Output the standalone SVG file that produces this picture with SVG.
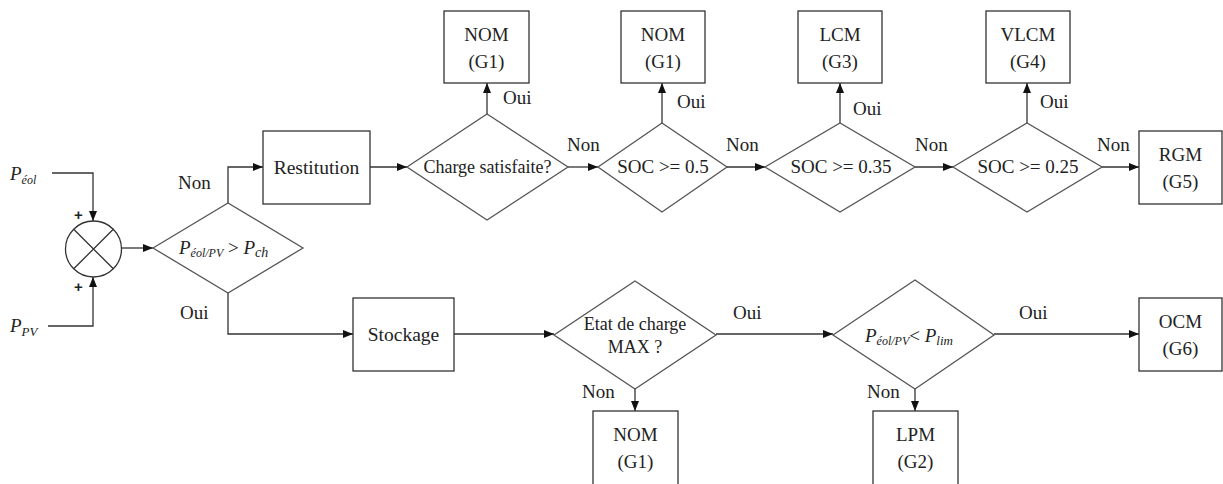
<svg xmlns="http://www.w3.org/2000/svg" width="1223" height="484" viewBox="0 0 1223 484" font-family="'Liberation Serif', 'Times New Roman', 'DejaVu Serif', serif">
<defs>
<marker id="ah" viewBox="0 0 10 8" refX="10" refY="4" markerWidth="10" markerHeight="8" markerUnits="userSpaceOnUse" orient="auto">
<path d="M0,0 L10,4 L0,8 Z" fill="#111"/>
</marker>
<style>
.box{fill:#fff;stroke:#333;stroke-width:1.3}
.dia{fill:#fff;stroke:#555;stroke-width:1.3}
.c{fill:none;stroke:#333;stroke-width:1.3;marker-end:url(#ah)}
.l{fill:none;stroke:#333;stroke-width:1.3}
text{fill:#222;font-size:19px}
.m{text-anchor:middle}
.big{font-size:19.5px}
.sm{font-size:18px}
.it{font-style:italic}
.pl{font-family:'Liberation Sans',Arial,sans-serif;font-weight:bold;font-size:15px}
</style>
</defs>
<rect width="1223" height="484" fill="#fff"/>

<g id="connectors">
<path class="c" d="M52,173 H93 V221"/>
<path class="c" d="M48,326 H93 V277"/>
<path class="c" d="M122,248 H153"/>
<path class="c" d="M228,203 V167 H263"/>
<path class="c" d="M228,293 V334 H353"/>
<path class="c" d="M370,167 H407"/>
<path class="c" d="M487,114 V83"/>
<path class="c" d="M568,167 H598"/>
<path class="c" d="M662,123 V83"/>
<path class="c" d="M727,167 H765"/>
<path class="c" d="M840,123 V83"/>
<path class="c" d="M915,167 H953"/>
<path class="c" d="M1027,123 V83"/>
<path class="c" d="M1102,167 H1139"/>
<path class="c" d="M454,334 H554"/>
<path class="c" d="M716,334 H833"/>
<path class="c" d="M635,389 V411"/>
<path class="c" d="M994,334 H1139"/>
<path class="c" d="M915,389 V411"/>
<text x="178" y="189">Non</text>
<text x="180" y="319">Oui</text>
<text x="503" y="104">Oui</text>
<text x="567" y="151">Non</text>
<text x="677" y="108">Oui</text>
<text x="726" y="151">Non</text>
<text x="853" y="115">Oui</text>
<text x="915" y="151">Non</text>
<text x="1040" y="108">Oui</text>
<text x="1097" y="151">Non</text>
<text x="733" y="319">Oui</text>
<text x="1019" y="319">Oui</text>
<text x="582" y="398">Non</text>
<text x="867" y="398">Non</text>
</g>

<g id="inputs">
<text x="10" y="180" class="it" font-size="20">P<tspan font-size="12" dy="4">éol</tspan></text>
<text x="10" y="332" class="it" font-size="20">P<tspan font-size="13" dy="4">PV</tspan></text>
<text x="74" y="220" class="pl">+</text>
<text x="74" y="292" class="pl">+</text>
</g>

<g id="sum">
<circle cx="93.5" cy="249" r="28" fill="#fff" stroke="#333" stroke-width="1.3"/>
<path class="l" d="M73.7,229.2 L113.3,268.8 M113.3,229.2 L73.7,268.8"/>
</g>

<g id="d1">
<polygon class="dia" points="153,248 228,203 303,248 228,293"/>
<text x="179" y="254" class="it" font-size="20">P<tspan font-size="12" dy="3">éol/PV</tspan><tspan dy="-3" font-style="normal"> &gt; </tspan>P<tspan font-size="14" dy="3">ch</tspan></text>
</g>

<g id="restitution">
<rect class="box" x="263" y="131" width="107" height="73"/>
<text x="316.5" y="174" class="m big">Restitution</text>
</g>

<g id="d2">
<polygon class="dia" points="407,167 487,114 568,167 487,220"/>
<text x="487.5" y="173" class="m sm">Charge satisfaite?</text>
</g>
<g id="nom1">
<rect class="box" x="444" y="11" width="85" height="72"/>
<text x="486.5" y="41" class="m">NOM</text>
<text x="486.5" y="68" class="m">(G1)</text>
</g>

<g id="d3">
<polygon class="dia" points="598,167 662,123 727,167 662,212"/>
<text x="663" y="173" class="m">SOC &gt;= 0.5</text>
</g>
<g id="nom2">
<rect class="box" x="621" y="11" width="84" height="72"/>
<text x="663" y="41" class="m">NOM</text>
<text x="663" y="68" class="m">(G1)</text>
</g>

<g id="d4">
<polygon class="dia" points="765,167 840,123 915,167 840,212"/>
<text x="841" y="173" class="m">SOC &gt;= 0.35</text>
</g>
<g id="lcm">
<rect class="box" x="798" y="11" width="84" height="72"/>
<text x="840" y="41" class="m">LCM</text>
<text x="840" y="68" class="m">(G3)</text>
</g>

<g id="d5">
<polygon class="dia" points="953,167 1027,123 1102,167 1027,212"/>
<text x="1028" y="173" class="m">SOC &gt;= 0.25</text>
</g>
<g id="vlcm">
<rect class="box" x="986" y="11" width="84" height="72"/>
<text x="1028" y="41" class="m">VLCM</text>
<text x="1028" y="68" class="m">(G4)</text>
</g>

<g id="rgm">
<rect class="box" x="1139" y="131" width="83" height="73"/>
<text x="1180.5" y="161" class="m">RGM</text>
<text x="1180.5" y="188" class="m">(G5)</text>
</g>

<g id="stockage">
<rect class="box" x="353" y="298" width="101" height="73"/>
<text x="403.5" y="341" class="m big">Stockage</text>
</g>

<g id="d6">
<polygon class="dia" points="554,335 635,281 716,335 635,389"/>
<text x="635" y="330" class="m sm">Etat de charge</text>
<text x="635" y="353" class="m sm">MAX ?</text>
</g>
<g id="nom3">
<rect class="box" x="593" y="411" width="85" height="80"/>
<text x="635.5" y="441" class="m">NOM</text>
<text x="635.5" y="468" class="m">(G1)</text>
</g>

<g id="d7">
<polygon class="dia" points="833,335 915,280 994,335 915,389"/>
<text x="865" y="342" class="it" font-size="20">P<tspan font-size="12" dy="3">éol/PV</tspan><tspan dy="-3" font-style="normal">&lt; </tspan>P<tspan font-size="13" dy="3">lim</tspan></text>
</g>
<g id="lpm">
<rect class="box" x="873" y="411" width="85" height="80"/>
<text x="915.5" y="441" class="m">LPM</text>
<text x="915.5" y="468" class="m">(G2)</text>
</g>

<g id="ocm">
<rect class="box" x="1139" y="298" width="83" height="73"/>
<text x="1180.5" y="328" class="m">OCM</text>
<text x="1180.5" y="355" class="m">(G6)</text>
</g>
</svg>
